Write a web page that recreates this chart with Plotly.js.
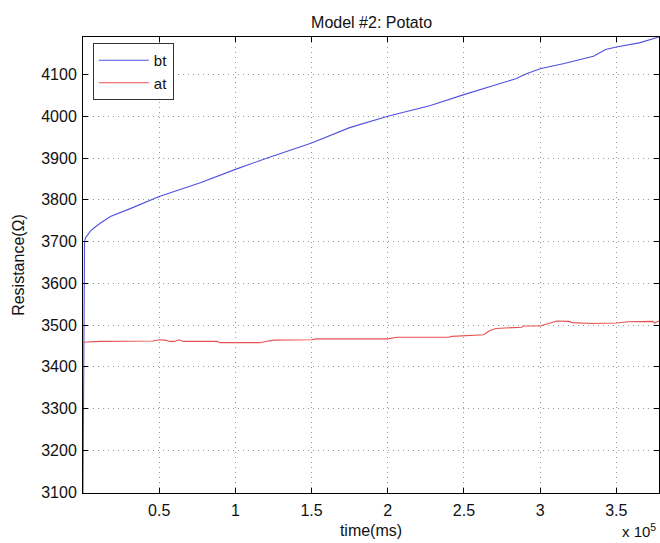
<!DOCTYPE html>
<html><head><meta charset="utf-8">
<script src="https://cdn.plot.ly/plotly-3.0.1.min.js"></script>
<style>html,body{margin:0;padding:0;background:#fff}#chart{width:660px;height:543px}</style>
</head><body><div id="chart"></div>
<script>
// time in units of 1e5 ms
const btTime = [0, 0.003, 0.006, 0.01, 0.015, 0.03, 0.048, 0.08, 0.113, 0.18, 0.25, 0.33, 0.5, 0.77, 1.0, 1.2, 1.5, 1.62, 1.75, 2.0, 2.28, 2.5, 2.7, 2.84, 2.91, 3.0, 3.15, 3.35, 3.43, 3.5, 3.65, 3.78];
const btRes  = [3098, 3400, 3650, 3695, 3708, 3716, 3725, 3735, 3744, 3760, 3771, 3782, 3808, 3841, 3873, 3899, 3936, 3953, 3973, 4000, 4026, 4052, 4074, 4090, 4102, 4114, 4126, 4144, 4160, 4166, 4176, 4190];
const atTime = [0, 0.11, 0.46, 0.5, 0.54, 0.57, 0.6, 0.63, 0.66, 0.88, 0.9, 1.16, 1.2, 1.25, 1.5, 1.53, 1.62, 2.0, 2.06, 2.4, 2.42, 2.5, 2.63, 2.67, 2.71, 2.88, 2.89, 3.0, 3.06, 3.11, 3.19, 3.21, 3.34, 3.5, 3.58, 3.74, 3.75, 3.78];
const atRes  = [3459, 3461, 3462, 3465, 3464, 3461, 3461, 3465, 3461, 3461, 3458, 3458, 3461, 3464, 3465, 3467, 3467, 3467, 3471, 3471, 3473, 3475, 3477, 3487, 3492, 3495, 3498, 3498, 3504, 3510, 3509, 3506, 3504, 3505, 3508, 3509, 3505, 3510];
const xTickVals = [0.5, 1, 1.5, 2, 2.5, 3, 3.5];
const xTickText = ['0.5', '1', '1.5', '2', '2.5', '3', '3.5'];
const yTickVals = [3100, 3200, 3300, 3400, 3500, 3600, 3700, 3800, 3900, 4000, 4100];

const fam = 'Liberation Sans, Arial, sans-serif';
const axisCommon = {
  showline: true, linecolor: '#000', linewidth: 1, mirror: 'ticks',
  ticks: 'inside', ticklen: 5, tickcolor: '#000',
  showgrid: true, gridcolor: '#999', griddash: '1px,4px', gridwidth: 1,
  zeroline: false, tickfont: {family: fam, size: 16, color: '#111'}
};
const traces = [
  {x: btTime, y: btRes, mode: 'lines', name: 'bt', line: {color: 'rgb(80,80,225)', width: 1.1}},
  {x: atTime, y: atRes, mode: 'lines', name: 'at', line: {color: 'rgb(232,80,80)', width: 1.1}}
];
const layout = {
  width: 660, height: 543,
  margin: {l: 83, r: 1, t: 37, b: 50},
  paper_bgcolor: '#fff', plot_bgcolor: '#fff',
  font: {family: fam, size: 16, color: '#111'},
  title: {text: 'Model #2: Potato', font: {family: fam, size: 16, color: '#111'}, x: 0.563, xanchor: 'center', y: 0.958, yanchor: 'middle'},
  xaxis: Object.assign({}, axisCommon, {range: [0, 3.78], tickvals: xTickVals, ticktext: xTickText, ticklabelstandoff: 3,
    title: {text: 'time(ms)', font: {family: fam, size: 16, color: '#111'}, standoff: 6}}),
  yaxis: Object.assign({}, axisCommon, {range: [3098, 4190], tickvals: yTickVals, ticklabelstandoff: 2,
    title: {text: 'Resistance(Ω)', font: {family: fam, size: 16, color: '#111'}, standoff: 12}}),
  showlegend: true,
  legend: {x: 0.017, y: 0.987, xanchor: 'left', yanchor: 'top', bgcolor: '#fff', bordercolor: '#333', borderwidth: 1,
    font: {family: fam, size: 15, color: '#111'}, tracegroupgap: 0, itemwidth: 50},
  annotations: [{xref: 'paper', yref: 'paper', x: 1, y: 0, xanchor: 'right', yanchor: 'top', yshift: -26, xshift: -1,
    text: 'x 10<sup>5</sup>', showarrow: false, font: {family: fam, size: 15, color: '#111'}}]
};
Plotly.newPlot('chart', traces, layout, {displayModeBar: false, staticPlot: true});
</script></body></html>
